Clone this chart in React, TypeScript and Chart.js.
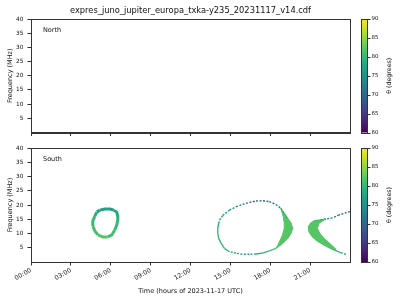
import React, { useEffect, useRef } from 'react';
import { Chart, registerables } from 'chart.js';

Chart.register(...registerables);

// ---------- data ----------
const fileTitle = 'expres_juno_jupiter_europa_txka-y235_20231117_v14.cdf';
const xAxisTitle = 'Time (hours of 2023-11-17 UTC)';
const yAxisTitle = 'Frequency (MHz)';
const cbTitle = 'θ (degrees)';
const panelNames = ['North', 'South'];

const hourRange = [0, 24];
const freqRange = [0, 40];
const thetaRange = [60, 90];

const xTickHours = [0, 3, 6, 9, 12, 15, 18, 21];
const xTickLabels = ['00:00', '03:00', '06:00', '09:00', '12:00', '15:00', '18:00', '21:00'];
const yTicks = [5, 10, 15, 20, 25, 30, 35, 40];
const cbTicks = [60, 65, 70, 75, 80, 85, 90];

// South, source 1 (closed loop near 06:00)
const loop1Hours = [5.18, 5.55, 5.93, 6.23, 6.45, 6.53, 6.53, 6.45, 6.30, 6.08, 5.78, 5.40, 5.03, 4.80, 4.65, 4.65, 4.80, 4.95];
const loop1Freq = [18.2, 18.6, 18.6, 18.2, 17.5, 16.1, 14.7, 13.0, 11.2, 9.5, 8.8, 8.8, 9.5, 10.9, 12.6, 14.4, 16.1, 17.5];
const loop1Theta = [77, 77, 77, 78, 78, 79, 80, 80, 81, 81, 82, 82, 81, 81, 80, 80, 79, 78];

// South, source 2 (closed loop 14:00-19:40)
const loop2Hours = [14.18, 14.42, 14.93, 15.43, 15.92, 16.43, 16.93, 17.42, 17.93, 18.43, 18.8, 19.05, 19.3, 19.55, 19.67, 19.55, 19.3, 18.92, 18.43, 17.93, 17.42, 16.93, 16.43, 15.92, 15.43, 14.93, 14.55, 14.3, 14.12, 14.05, 14.05, 14.12];
const loop2Freq = [14.7, 16.3, 18.2, 19.4, 20.2, 20.9, 21.4, 21.5, 21.2, 20.2, 18.8, 17.1, 15.3, 13.6, 11.8, 10.1, 8.3, 6.6, 4.8, 3.9, 3.1, 2.8, 2.7, 2.7, 3.1, 3.6, 4.8, 6.6, 8.3, 10.1, 11.8, 13.6];
const loop2Theta = [77, 76, 74, 73, 72, 71, 70, 70, 71, 74, 77, 80, 82, 82, 82, 82, 82, 82, 81, 80, 79, 78, 77, 77, 78, 79, 80, 80, 80, 80, 79, 78];

// dense part of source 2 (right side band)
const band2Hours = [18.8, 19.05, 19.3, 19.55, 19.67, 19.55, 19.3, 18.92, 18.43, 18.6, 18.92, 19.05, 19.05, 18.98];
const band2Freq = [18.8, 17.1, 15.3, 13.6, 11.8, 10.1, 8.3, 6.6, 4.8, 6.2, 9.5, 11.8, 13.6, 15.9];
const band2Theta = 82;

// South, source 3 (open arc 21:00-24:00)
const loop3Hours = [24.0, 23.18, 22.68, 22.18, 21.68, 21.3, 21.05, 20.88, 20.93, 21.18, 21.55, 22.05, 22.55, 22.93, 23.3, 23.75];
const loop3Freq = [17.7, 16.5, 15.5, 15.1, 14.7, 14.4, 13.6, 12.4, 10.6, 8.9, 7.4, 6.0, 4.8, 4.0, 3.3, 2.6];
const loop3Theta = [70, 73, 75, 78, 81, 82, 82, 82, 82, 82, 82, 82, 81, 80, 78, 76];

// dense part of source 3 (left side band)
const band3Hours = [22.18, 21.68, 21.3, 21.05, 20.88, 20.93, 21.18, 21.55, 22.05, 22.55, 22.93, 22.93, 22.55, 22.05, 21.73, 21.55, 21.68];
const band3Freq = [15.1, 14.7, 14.4, 13.6, 12.4, 10.6, 8.9, 7.4, 6.0, 4.8, 4.0, 4.6, 6.2, 8.3, 10.1, 11.8, 13.6];
const band3Theta = 82;

// ---------- style ----------
const FONT = '"DejaVu Sans", sans-serif';
const SPINE = '#333';
const TEXT = '#111';
const VIRIDIS = ['#440154', '#482475', '#414487', '#355f8d', '#2a788e', '#21918c', '#22a884', '#44bf70', '#7ad151', '#bddf26', '#fde725'];

function hexToRgb(h: string) {
  return [parseInt(h.slice(1, 3), 16), parseInt(h.slice(3, 5), 16), parseInt(h.slice(5, 7), 16)];
}
function viridis(theta: number) {
  let t = (theta - thetaRange[0]) / (thetaRange[1] - thetaRange[0]);
  t = Math.max(0, Math.min(1, t));
  const pos = t * (VIRIDIS.length - 1);
  const i = Math.min(VIRIDIS.length - 2, Math.floor(pos));
  const f = pos - i;
  const a = hexToRgb(VIRIDIS[i]);
  const b = hexToRgb(VIRIDIS[i + 1]);
  const c = a.map((v, k) => Math.round(v + (b[k] - v) * f));
  return `rgb(${c[0]},${c[1]},${c[2]})`;
}

function pts(hours: number[], freq: number[], closed: boolean) {
  const p = hours.map((h, i) => ({ x: h, y: freq[i] }));
  if (closed) p.push({ x: hours[0], y: freq[0] });
  return p;
}

function lineDataset(hours: number[], freq: number[], theta: number[], closed: boolean, width: number, dashBelow: number) {
  const n = theta.length;
  return {
    data: pts(hours, freq, closed),
    showLine: true,
    fill: false,
    borderWidth: width,
    pointRadius: 0,
    pointHoverRadius: 0,
    borderColor: viridis(theta[0]),
    borderJoinStyle: 'round' as const,
    segment: {
      borderColor: (c: any) => viridis(theta[c.p0DataIndex % n]),
      borderDash: (c: any) => (theta[c.p0DataIndex % n] < dashBelow ? [2, 1.5] : undefined),
    },
  };
}

function bandDataset(hours: number[], freq: number[], theta: number) {
  const col = viridis(theta);
  return {
    data: pts(hours, freq, true),
    showLine: true,
    fill: 'shape',
    backgroundColor: col,
    borderColor: col,
    borderWidth: 1,
    pointRadius: 0,
    pointHoverRadius: 0,
  };
}

function decorPlugin(panel: string, title: string | null) {
  return {
    id: 'decor',
    afterDraw(chart: any) {
      const { ctx, chartArea: a } = chart;
      ctx.save();
      // full box
      ctx.strokeStyle = SPINE;
      ctx.lineWidth = 1;
      ctx.strokeRect(Math.round(a.left) + 0.5, Math.round(a.top) + 0.5, Math.round(a.right - a.left), Math.round(a.bottom - a.top));
      // panel name
      ctx.fillStyle = TEXT;
      ctx.font = `6.5px ${FONT}`;
      ctx.textBaseline = 'middle';
      ctx.textAlign = 'left';
      ctx.fillText(panel, a.left + 12, a.top + 11);
      // title
      if (title) {
        ctx.font = `8.3px ${FONT}`;
        ctx.textAlign = 'center';
        ctx.fillText(title, (a.left + a.right) / 2, 11);
      }
      // colorbar
      const x0 = a.right + 11;
      const w = 7;
      const h = a.bottom - a.top;
      const g = ctx.createLinearGradient(0, a.bottom, 0, a.top);
      VIRIDIS.forEach((c, i) => g.addColorStop(i / (VIRIDIS.length - 1), c));
      ctx.fillStyle = g;
      ctx.fillRect(x0, a.top, w, h);
      ctx.strokeStyle = SPINE;
      ctx.strokeRect(x0 + 0.5, Math.round(a.top) + 0.5, w - 1, Math.round(h));
      ctx.fillStyle = TEXT;
      ctx.font = `5.5px ${FONT}`;
      ctx.textAlign = 'left';
      ctx.textBaseline = 'middle';
      cbTicks.forEach((v) => {
        const y = a.bottom - ((v - thetaRange[0]) / (thetaRange[1] - thetaRange[0])) * h;
        ctx.beginPath();
        ctx.moveTo(x0 + w, Math.round(y) + 0.5);
        ctx.lineTo(x0 + w + 2.5, Math.round(y) + 0.5);
        ctx.stroke();
        ctx.fillText(String(v), x0 + w + 3.5, y);
      });
      ctx.translate(x0 + w + 21, (a.top + a.bottom) / 2);
      ctx.rotate(-Math.PI / 2);
      ctx.textAlign = 'center';
      ctx.font = `6.3px ${FONT}`;
      ctx.fillText(cbTitle, 0, 0);
      ctx.restore();
    },
  };
}

function makeOptions(showXLabels: boolean, padTop: number, xHeight: number) {
  return {
    responsive: false,
    animation: false as const,
    events: [],
    layout: { padding: { left: 0, right: 50, top: padTop, bottom: 0 } },
    plugins: { legend: { display: false }, tooltip: { enabled: false }, title: { display: false } },
    scales: {
      x: {
        type: 'linear' as const,
        min: hourRange[0],
        max: hourRange[1],
        afterBuildTicks: (s: any) => {
          s.ticks = xTickHours.map((v) => ({ value: v }));
        },
        afterFit: (s: any) => {
          s.height = xHeight;
        },
        grid: { drawOnChartArea: false, drawTicks: true, tickLength: 3.5, color: SPINE },
        border: { color: SPINE, width: 1 },
        ticks: {
          display: showXLabels,
          autoSkip: false,
          minRotation: 30,
          maxRotation: 30,
          padding: 1,
          color: TEXT,
          font: { family: FONT, size: 6.3 },
          callback: (_v: any, i: number) => xTickLabels[i],
        },
        title: {
          display: showXLabels,
          text: xAxisTitle,
          color: TEXT,
          font: { family: FONT, size: 6.5 },
          padding: { top: 0, bottom: 5 },
        },
      },
      y: {
        type: 'linear' as const,
        min: freqRange[0],
        max: freqRange[1],
        afterBuildTicks: (s: any) => {
          s.ticks = yTicks.map((v) => ({ value: v }));
        },
        afterFit: (s: any) => {
          s.width = 31;
        },
        grid: { drawOnChartArea: false, drawTicks: true, tickLength: 3.5, color: SPINE },
        border: { color: SPINE, width: 1 },
        ticks: { padding: 4, color: TEXT, font: { family: FONT, size: 5.8 } },
        title: {
          display: true,
          text: yAxisTitle,
          color: TEXT,
          font: { family: FONT, size: 6.5 },
          padding: { top: 6, bottom: 0 },
        },
      },
    },
  };
}

function Panel({ top, height, datasets, panel, title, showXLabels, padTop, xHeight }: any) {
  const ref = useRef<HTMLCanvasElement>(null);
  useEffect(() => {
    if (!ref.current) return;
    const chart = new Chart(ref.current, {
      type: 'scatter',
      data: { datasets },
      options: makeOptions(showXLabels, padTop, xHeight) as any,
      plugins: [decorPlugin(panel, title)],
    });
    return () => chart.destroy();
  }, []);
  return (
    <canvas
      ref={ref}
      width={400}
      height={height}
      style={{ position: 'absolute', left: 0, top, width: 400, height }}
    />
  );
}

export default function App() {
  const southSets = [
    lineDataset(loop1Hours, loop1Freq, loop1Theta, true, 3, 0),
    lineDataset(loop2Hours, loop2Freq, loop2Theta, true, 1.4, 79),
    bandDataset(band2Hours, band2Freq, band2Theta),
    lineDataset(loop3Hours, loop3Freq, loop3Theta, false, 1.4, 79),
    bandDataset(band3Hours, band3Freq, band3Theta),
  ];
  return (
    <div style={{ position: 'fixed', left: 0, top: 0, width: 400, height: 300, background: '#fff' }}>
      <Panel top={0} height={140} datasets={[]} panel={panelNames[0]} title={fileTitle} showXLabels={false} padTop={19} xHeight={7} />
      <Panel top={140} height={160} datasets={southSets} panel={panelNames[1]} title={null} showXLabels={true} padTop={8} xHeight={38} />
    </div>
  );
}
